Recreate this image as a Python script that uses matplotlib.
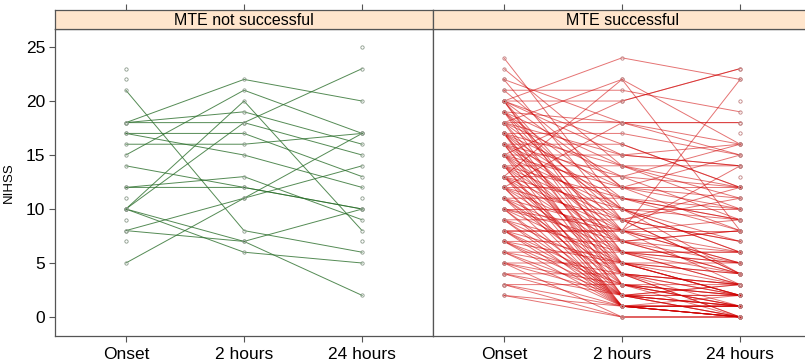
import numpy as np
import matplotlib
matplotlib.use("Agg")
import matplotlib.pyplot as plt

nan = np.nan

time_labels = ["Onset", "2 hours", "24 hours"]
panel_titles = ["MTE not successful", "MTE successful"]

# ---- MTE not successful (one entry per patient) ----
left_onset = [23, 22, 21, 18, 18, 18, 17, 17, 16, 15, 14, 12, 12, 11, 10, 10, 10, 10, 9, 8, 8, 7, 5, nan, nan, nan]
left_2h    = [nan, nan, 8, 22, 19, 18, 17, 15, 16, 21, 12, 13, 12, nan, 20, 18, 7, 6, nan, 11, 7, nan, 11, nan, nan, nan]
left_24h   = [nan, nan, 6, 20, 16, 15, 13, 12, 17, 17, 10, 9, 10, nan, 8, 23, 2, 5, nan, 14, 10, nan, 17, 25, 11, 7]

# ---- MTE successful (one entry per patient) ----
right_onset = [24, 23, 22, 22, 21, 21,
               20, 20, 20, 20, 20, 20, 20, 20,
               19, 19, 19, 19, 19, 19,
               18, 18, 18, 18, 18, 18, 18,
               17, 17, 17, 17, 17, 17, 17, 17,
               16, 16, 16, 16, 16, 16, 16,
               15, 15, 15, 15, 15, 15, 15, 15,
               14, 14, 14, 14, 14, 14, 14,
               13, 13, 13, 13, 13, 13, 13, 13,
               12, 12, 12, 12, 12, 12, 12,
               11, 11, 11, 11, 11, 11,
               10, 10, 10, 10, 10, 10,
               9, 9, 9, 9, 9,
               8, 8, 8, 8, 8, 8,
               7, 7, 7, 7, 7,
               6, 6, 6, 6,
               5, 5, 5, 5,
               4, 4, 4,
               3, 3, 3,
               2, 2,
               nan, nan, nan]
right_2h = [10, 14, 18, 9, 21, 12,
            24, 20, 16, 12, 8, 6, 5, 15,
            18, 11, 7, 4, 14, 9,
            22, 18, 13, 10, 6, 3, 15,
            17, 12, 8, 5, 2, 14, 10, 4,
            16, 11, 7, 3, 13, 9, 2,
            15, 20, 10, 6, 4, 1, 12, 8,
            14, 9, 5, 2, 11, 7, 1,
            22, 13, 8, 3, 1, 10, 6, 4,
            12, 7, 2, 1, 18, 9, 5,
            11, 6, 3, 8, 1, 4,
            10, 5, 2, 7, 1, 8,
            9, 4, 2, 6, 1,
            8, 3, 1, 5, 8, 2,
            7, 3, 1, 5, 2,
            6, 2, 1, 4,
            5, 2, 0, 3,
            4, 1, 2,
            3, 1, 0,
            1, 0,
            nan, nan, nan]
right_24h = [6, 12, 15, 4, 19, 8,
             22, 23, 12, 10, 5, 3, 2, 16,
             18, 9, 4, 1, 14, 12,
             8, 16, 9, 7, 3, 0, 14,
             15, 11, 6, 2, 1, 10, 9, 3,
             12, 8, 5, 1, 16, 4, 0,
             14, 23, 6, 4, 2, 0, 15, 9,
             11, 7, 3, 1, 10, 8, 0,
             16, 12, 5, 2, 1, 4, 6, 0,
             12, 4, 3, 0, 18, 11, 2,
             9, 5, 1, 14, 2, 3,
             10, 4, 0, 8, 1, 22,
             7, 2, 1, 6, 0,
             8, 2, 1, 5, 3, 0,
             6, 3, 0, 2, 1,
             5, 2, 1, 0,
             4, 3, 0, 1,
             3, 0, 2,
             2, 1, 0,
             0, 0,
             20, 17, 13]

panels = [
    (left_onset, left_2h, left_24h, "#2a6e2a", 0.8, "#8a9a8a"),
    (right_onset, right_2h, right_24h, "#d00000", 0.55, "#c08080"),
]

W, H = 805, 364
fig = plt.figure(figsize=(W / 100, H / 100), dpi=100)
plt.rcParams['font.family'] = ['Liberation Sans', 'DejaVu Sans']

frame_col = "#555555"
px_l = [55, 433]
pw = 378
top_px, bot_px, strip_top_px = 29, 336, 10

xpos = np.arange(1, len(time_labels) + 1)

for i, (on, h2, h24, col, al, mcol) in enumerate(panels):
    x0 = px_l[i] / W
    ax = fig.add_axes([x0, (H - bot_px) / H, pw / W, (bot_px - top_px) / H])
    sax = fig.add_axes([x0, (H - top_px) / H, pw / W, (top_px - strip_top_px) / H])

    data = np.array([on, h2, h24], dtype=float)
    for k in range(data.shape[1]):
        ax.plot(xpos, data[:, k], color=col, lw=0.7, alpha=al, zorder=2)
    for k in range(data.shape[1]):
        ax.plot(xpos, data[:, k], ls='none', marker='o', ms=2.4, mfc='none',
                mec=mcol, mew=0.6, zorder=3)

    ax.set_xlim(0.4, 3.6)
    ax.set_ylim(-1.76, 26.67)
    ax.set_xticks(xpos)
    ax.set_xticklabels(time_labels, fontsize=12.5)
    ax.set_yticks([0, 5, 10, 15, 20, 25])
    ax.tick_params(axis='x', direction='out', length=4, width=0.8, color=frame_col, pad=4)
    if i == 0:
        ax.tick_params(axis='y', direction='out', length=4, width=0.8, color=frame_col,
                       labelsize=12.5, pad=3, left=True, right=False)
        ax.set_ylabel("NIHSS", fontsize=9.5, labelpad=8)
    else:
        ax.tick_params(axis='y', left=False, labelleft=False, right=True, length=4,
                       width=0.8, color=frame_col)
    for s in ax.spines.values():
        s.set_color(frame_col)
        s.set_linewidth(0.9)

    sax.set_facecolor("#ffe5cc")
    sax.set_xlim(0.4, 3.6)
    sax.set_ylim(0, 1)
    sax.set_yticks([])
    sax.set_xticks(xpos)
    sax.xaxis.tick_top()
    sax.tick_params(axis='x', direction='out', length=4, width=0.8, color=frame_col,
                    labeltop=False, labelbottom=False)
    for s in sax.spines.values():
        s.set_color(frame_col)
        s.set_linewidth(0.9)
    sax.text(0.5, 0.45, panel_titles[i], transform=sax.transAxes, ha='center',
             va='center', fontsize=11.5)

fig.savefig("out.png", dpi=100)
